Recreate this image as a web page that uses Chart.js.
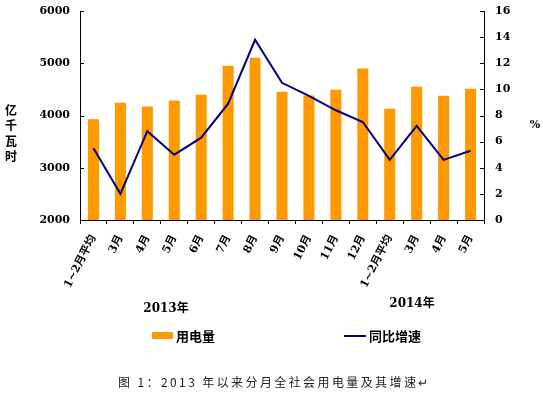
<!DOCTYPE html>
<html>
<head>
<meta charset="utf-8">
<script src="https://cdn.jsdelivr.net/npm/chart.js@4/dist/chart.umd.min.js"></script>
<style>
  html, body { margin: 0; padding: 0; background: #fff; }
  #wrap { width: 543px; height: 393px; }
</style>
</head>
<body>
<div id="wrap"><canvas id="powerChart" width="543" height="393"></canvas></div>
<script>
const categories = ['1~2月平均', '3月', '4月', '5月', '6月', '7月', '8月', '9月', '10月', '11月', '12月', '1~2月平均', '3月', '4月', '5月']
const consumption = [3930, 4245, 4170, 4285, 4395, 4950, 5105, 4455, 4385, 4495, 4900, 4130, 4550, 4380, 4510]
const growth = [5.5, 2.0, 6.8, 5.0, 6.3, 8.9, 13.8, 10.5, 9.5, 8.4, 7.5, 4.6, 7.2, 4.6, 5.3]
const leftTicks = [2000, 3000, 4000, 5000, 6000]
const rightTicks = [0, 2, 4, 6, 8, 10, 12, 14, 16]
const years = ['2013年', '2014年']
const seriesNames = ['用电量', '同比增速']
const leftTitle = '亿千瓦时'
const rightTitle = '%'
const caption = '图 1：2013 年以来分月全社会用电量及其增速↵'

const tickFont = { family: "'DejaVu Serif', 'Noto Sans CJK SC', serif", size: 11, weight: 'bold' }
const cjkBold = "bold 12px 'DejaVu Serif', 'Noto Sans CJK SC', sans-serif"

// inward tick marks on both y axes + the extra texts
const extrasPlugin = {
    id: 'extras',
    afterDraw(chart) {
        const ctx = chart.ctx
        const y = chart.scales.y
        const y1 = chart.scales.y1
        ctx.save()
        ctx.strokeStyle = '#000'
        ctx.lineWidth = 1
        for (let v of leftTicks) {
            let py = Math.round(y.getPixelForValue(v)) + 0.5
            ctx.beginPath()
            ctx.moveTo(y.right, py)
            ctx.lineTo(y.right + 4, py)
            ctx.stroke()
        }
        for (let v of rightTicks) {
            let py = Math.round(y1.getPixelForValue(v)) + 0.5
            ctx.beginPath()
            ctx.moveTo(y1.left, py)
            ctx.lineTo(y1.left - 4, py)
            ctx.stroke()
        }

        ctx.fillStyle = '#000'
        ctx.textAlign = 'center'
        ctx.textBaseline = 'middle'
        ctx.font = cjkBold
        let chars = leftTitle.split('')
        chars.forEach((c, i) => ctx.fillText(c, 11, 112 + i * 15.3))
        ctx.font = "bold 11px 'DejaVu Serif', serif"
        ctx.fillText(rightTitle, 535, 125)

        ctx.font = cjkBold
        ctx.fillText(years[0], 166, 309)
        ctx.fillText(years[1], 412, 304)

        // legend
        ctx.textAlign = 'left'
        ctx.fillStyle = '#FF9900'
        ctx.fillRect(152, 332, 21, 7)
        ctx.fillStyle = '#000'
        ctx.font = "bold 13px 'Noto Sans CJK SC', sans-serif"
        ctx.fillText(seriesNames[0], 176, 336)
        ctx.strokeStyle = '#000080'
        ctx.lineWidth = 2
        ctx.beginPath()
        ctx.moveTo(344, 336)
        ctx.lineTo(366, 336)
        ctx.stroke()
        ctx.fillText(seriesNames[1], 369, 336)

        // caption
        ctx.fillStyle = '#222'
        ctx.font = "12px 'Noto Sans CJK SC', sans-serif"
        ctx.letterSpacing = '2.4px'
        ctx.fillText(caption, 118, 382)
        ctx.restore()
    }
}

function fixY(width) {
    return s => {
        s.width = width
        s.paddingTop = 0
        s.paddingBottom = 0
    }
}

new Chart('powerChart', {
    type: 'bar',
    data: {
        labels: categories,
        datasets: [{
            type: 'line',
            label: seriesNames[1],
            data: growth,
            yAxisID: 'y1',
            borderColor: '#000080',
            borderWidth: 2,
            pointRadius: 0,
            tension: 0,
            order: 0
        }, {
            label: seriesNames[0],
            data: consumption,
            yAxisID: 'y',
            backgroundColor: '#FF9900',
            categoryPercentage: 1,
            barPercentage: 0.41,
            order: 1
        }]
    },
    options: {
        responsive: false,
        animation: false,
        devicePixelRatio: 1,
        layout: { padding: { top: 11, left: 0, right: 0, bottom: 0 } },
        plugins: { legend: { display: false }, tooltip: { enabled: false } },
        scales: {
            x: {
                afterFit: s => { s.height = 173; s.paddingLeft = 0; s.paddingRight = 0 },
                border: { color: '#000', width: 1 },
                grid: { drawOnChartArea: false, tickLength: 4, color: '#000' },
                ticks: { color: '#000', font: tickFont, minRotation: 63, maxRotation: 63, padding: 9, autoSkip: false }
            },
            y: {
                position: 'left',
                min: 2000,
                max: 6000,
                afterFit: fixY(80),
                afterBuildTicks: s => { s.ticks = leftTicks.map(v => ({ value: v })) },
                border: { color: '#000', width: 1 },
                grid: { display: true, drawOnChartArea: false, drawTicks: false },
                ticks: { color: '#000', font: tickFont, padding: 10, callback: v => String(v) }
            },
            y1: {
                position: 'right',
                min: 0,
                max: 16,
                afterFit: fixY(59),
                afterBuildTicks: s => { s.ticks = rightTicks.map(v => ({ value: v })) },
                border: { color: '#000', width: 1 },
                grid: { display: true, drawOnChartArea: false, drawTicks: false },
                ticks: { color: '#000', font: tickFont, padding: 11 }
            }
        }
    },
    plugins: [extrasPlugin]
})
</script>
</body>
</html>
